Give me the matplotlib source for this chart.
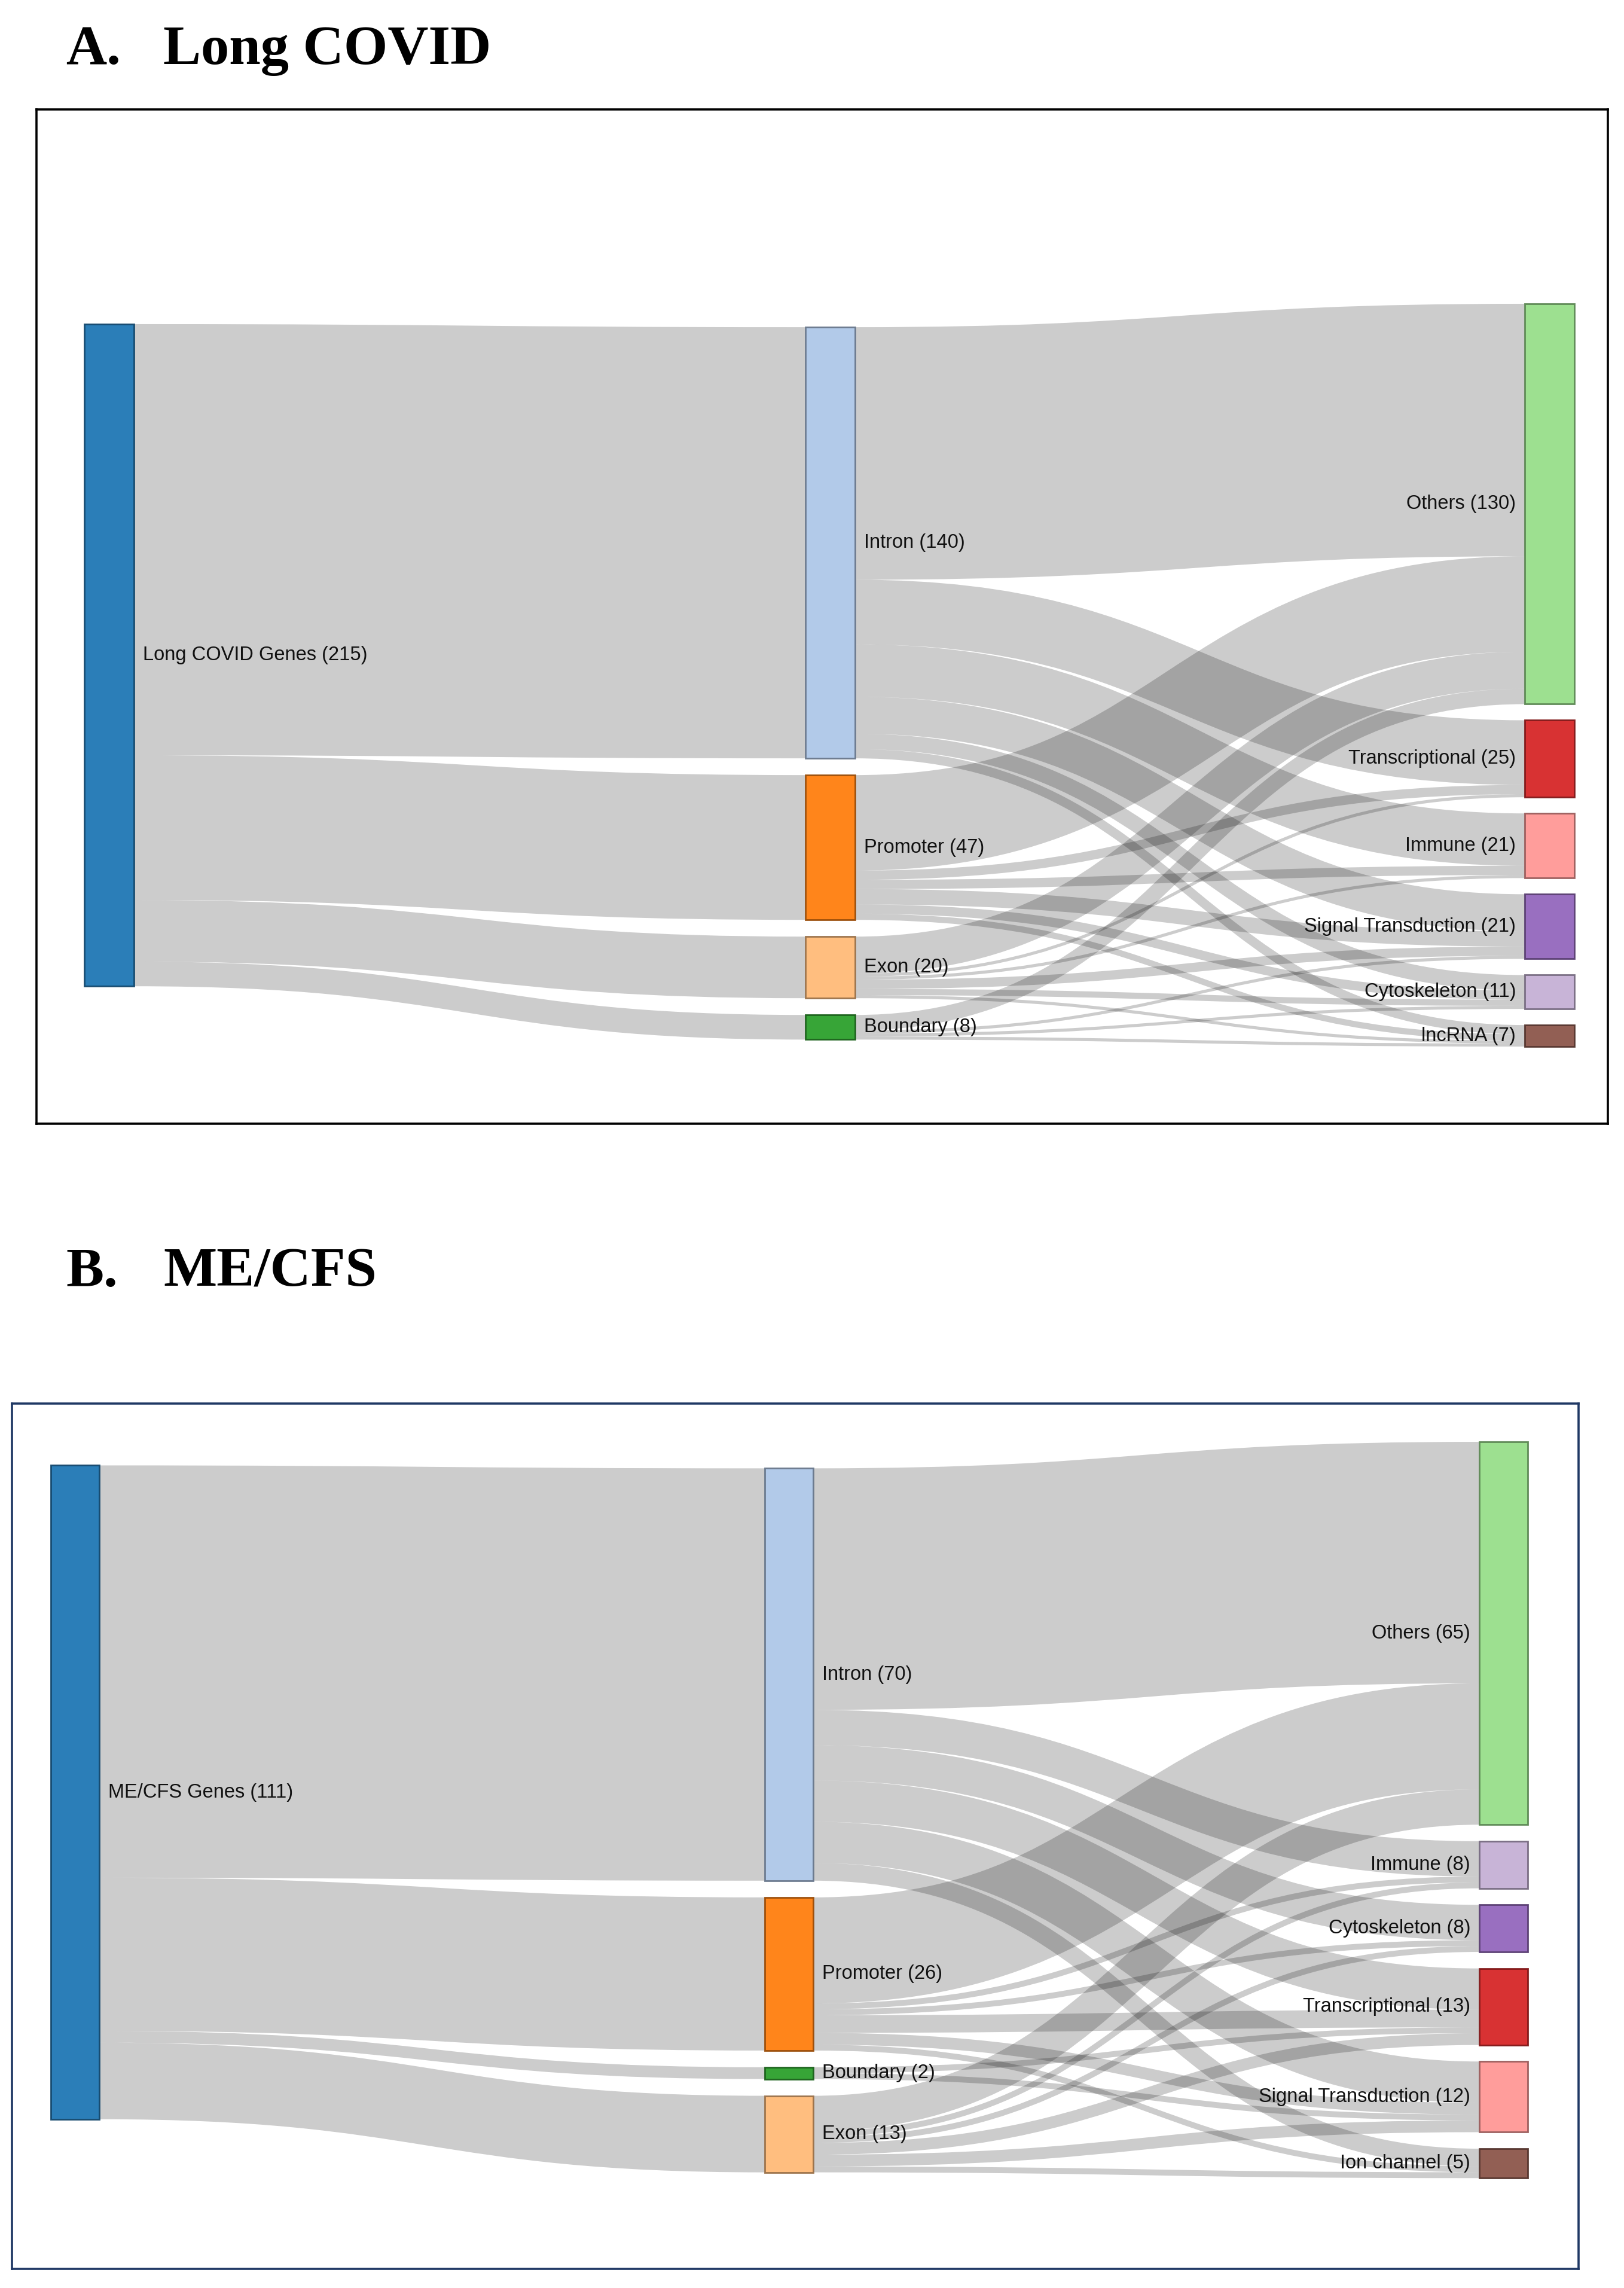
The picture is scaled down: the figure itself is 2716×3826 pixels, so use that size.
import matplotlib
matplotlib.use("Agg")
import matplotlib.pyplot as plt
from matplotlib.path import Path
from matplotlib.patches import PathPatch, Rectangle
from matplotlib.colors import to_rgb

# ---- Panel A: Long COVID ----
a_source = "Long COVID Genes"
a_regions = ["Intron", "Promoter", "Exon", "Boundary"]
a_region_counts = [140, 47, 20, 8]
a_functions = ["Others", "Transcriptional", "Immune", "Signal Transduction", "Cytoskeleton", "lncRNA"]
a_function_counts = [130, 25, 21, 21, 11, 7]
# rows = regions, cols = functions
a_flows = [
    [82, 21, 17, 12, 5, 3],
    [31, 3, 3, 5, 3, 2],
    [12, 1, 1, 3, 2, 1],
    [5, 0, 0, 1, 1, 1],
]
a_region_colors = ["#aec7e8", "#ff7f0e", "#ffbb78", "#2ca02c"]
a_function_colors = ["#98df8a", "#d62728", "#ff9896", "#9467bd", "#c5b0d5", "#8c564b"]

# ---- Panel B: ME/CFS ----
b_source = "ME/CFS Genes"
b_regions = ["Intron", "Promoter", "Boundary", "Exon"]
b_region_counts = [70, 26, 2, 13]
b_functions = ["Others", "Immune", "Cytoskeleton", "Transcriptional", "Signal Transduction", "Ion channel"]
b_function_counts = [65, 8, 8, 13, 12, 5]
b_flows = [
    [41, 6, 6, 7, 7, 3],
    [18, 1, 1, 3, 2, 1],
    [0, 0, 0, 1, 1, 0],
    [6, 1, 1, 2, 2, 1],
]
b_region_colors = ["#aec7e8", "#ff7f0e", "#2ca02c", "#ffbb78"]
b_function_colors = ["#98df8a", "#c5b0d5", "#9467bd", "#d62728", "#ff9896", "#8c564b"]

SOURCE_COLOR = "#1f77b4"

W, H, DPI = 2716, 3826, 100
fig = plt.figure(figsize=(W / DPI, H / DPI), dpi=DPI)
fig.patch.set_facecolor("white")

LABEL_FONT = ["Liberation Sans", "DejaVu Sans"]
TITLE_FONT = ["Liberation Serif", "DejaVu Serif"]


def darker(c, k=0.6):
    r, g, b = to_rgb(c)
    return (r * k, g * k, b * k)


def sankey_panel(frame, frame_color, ppu, col_x, col_top, pads, node_w,
                 source, regions, region_counts, functions, function_counts,
                 flows, region_colors, function_colors):
    fx0, fy0, fx1, fy1 = frame
    fw, fh = fx1 - fx0, fy1 - fy0
    ax = fig.add_axes([fx0 / W, 1 - fy1 / H, fw / W, fh / H])
    ax.set_xlim(0, fw)
    ax.set_ylim(fh / ppu, 0)  # y in gene counts
    ax.set_xticks([])
    ax.set_yticks([])
    for s in ax.spines.values():
        s.set_color(frame_color)
        s.set_linewidth(2.6)

    total = sum(region_counts)
    columns = [
        [(f"{source} ({total})", total, SOURCE_COLOR)],
        [(f"{n} ({v})", v, c) for n, v, c in zip(regions, region_counts, region_colors)],
        [(f"{n} ({v})", v, c) for n, v, c in zip(functions, function_counts, function_colors)],
    ]

    # stack nodes in each column
    nodes = []
    for ci, col in enumerate(columns):
        y = col_top[ci]
        placed = []
        for label, v, c in col:
            placed.append({"label": label, "y0": y, "y1": y + v, "x0": col_x[ci],
                           "x1": col_x[ci] + node_w, "color": c, "out": 0.0, "in": 0.0})
            y += v + pads[ci]
        nodes.append(placed)

    links = []
    for i, v in enumerate(region_counts):
        links.append((nodes[0][0], nodes[1][i], v))
    for i, row in enumerate(flows):
        for j, v in enumerate(row):
            if v > 0:
                links.append((nodes[1][i], nodes[2][j], v))

    # at each target, incoming links are stacked in source order
    tgt_pos = {}
    by_target = {}
    for k, (s, t, v) in enumerate(links):
        by_target.setdefault(id(t), []).append(k)
    for ks in by_target.values():
        ks.sort(key=lambda k: links[k][0]["y0"])
        for k in ks:
            s, t, v = links[k]
            tgt_pos[k] = t["y0"] + t["in"] + v / 2
            t["in"] += v

    lw_scale = ppu * 72 / DPI
    for k, (s, t, v) in enumerate(links):
        ys = s["y0"] + s["out"] + v / 2
        s["out"] += v
        yt = tgt_pos[k]
        xa, xb = s["x1"], t["x0"]
        xm = (xa + xb) / 2
        path = Path([(xa, ys), (xm, ys), (xm, yt), (xb, yt)],
                    [Path.MOVETO, Path.CURVE4, Path.CURVE4, Path.CURVE4])
        ax.add_patch(PathPatch(path, fill=False, edgecolor=(0, 0, 0, 0.2),
                               lw=v * lw_scale, capstyle="butt", zorder=1))

    for ci, col in enumerate(nodes):
        for n in col:
            ax.add_patch(Rectangle((n["x0"], n["y0"]), node_w, n["y1"] - n["y0"],
                                   facecolor=n["color"], edgecolor=darker(n["color"]) + (0.3,),
                                   lw=2.0, alpha=0.95, zorder=3))
            ym = (n["y0"] + n["y1"]) / 2
            if ci < 2:
                ax.text(n["x1"] + 15, ym, n["label"], ha="left", va="center",
                        fontsize=23.5, color="#111111", family=LABEL_FONT, zorder=4)
            else:
                ax.text(n["x0"] - 15, ym, n["label"], ha="right", va="center",
                        fontsize=23.5, color="#111111", family=LABEL_FONT, zorder=4)
    return ax


# Panel A
sankey_panel(frame=(61, 183, 2689, 1879), frame_color="black", ppu=5.15,
             col_x=[80, 1286, 2489], col_top=[69.7, 70.7, 63.1], pads=[0, 5.44, 5.24],
             node_w=83, source=a_source, regions=a_regions, region_counts=a_region_counts,
             functions=a_functions, function_counts=a_function_counts, flows=a_flows,
             region_colors=a_region_colors, function_colors=a_function_colors)

# Panel B
sankey_panel(frame=(20, 2347, 2640, 3794), frame_color="#1f3864", ppu=9.85,
             col_x=[65, 1259, 2454], col_top=[10.5, 11.0, 6.5], pads=[0, 2.84, 2.8],
             node_w=81, source=b_source, regions=b_regions, region_counts=b_region_counts,
             functions=b_functions, function_counts=b_function_counts, flows=b_flows,
             region_colors=b_region_colors, function_colors=b_function_colors)

# panel titles
for letter, name, base in [("A.", "Long COVID", 107), ("B.", "ME/CFS", 2151)]:
    fig.text(110 / W, 1 - base / H, letter, ha="left", va="baseline", fontsize=68,
             fontweight="bold", family=TITLE_FONT)
    fig.text(273 / W, 1 - base / H, name, ha="left", va="baseline", fontsize=68,
             fontweight="bold", family=TITLE_FONT)

fig.savefig("out.png", dpi=DPI, facecolor="white")
